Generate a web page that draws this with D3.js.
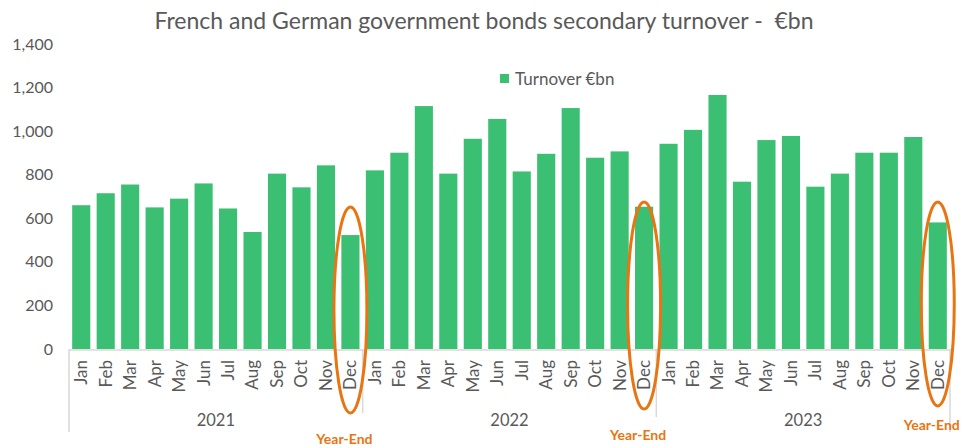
<!DOCTYPE html>
<html>
<head>
<meta charset="utf-8">
<script src="https://cdn.jsdelivr.net/npm/d3@7"></script>
<style>
  html, body { margin: 0; padding: 0; background: #fff; }
  svg { display: block; font-family: Lato, "Open Sans", sans-serif; }
</style>
</head>
<body>
<svg id="chart" width="965" height="448"></svg>
<script>
const title = "French and German government bonds secondary turnover -  €bn";
const seriesName = "Turnover €bn";
const years = ["2021", "2022", "2023"];
const months = ["Jan","Feb","Mar","Apr","May","Jun","Jul","Aug","Sep","Oct","Nov","Dec"];
const turnover2021 = [660, 715, 755, 650, 690, 760, 645, 537, 805, 742, 843, 523];
const turnover2022 = [820, 901, 1115, 805, 965, 1056, 815, 896, 1106, 878, 907, 653];
const turnover2023 = [942, 1006, 1166, 768, 959, 978, 745, 805, 901, 901, 973, 581];
const yTicks = [0, 200, 400, 600, 800, 1000, 1200, 1400];
const annotationLabel = "Year-End";

(function () {
const byYear = [turnover2021, turnover2022, turnover2023];
const data = [];
years.forEach((yr, yi) => months.forEach((m, mi) => data.push({ key: yr + "-" + m, year: yr, month: m, value: byYear[yi][mi] })));

const svg = d3.select("#chart");
const pLeft = 69, pRight = 950, pTop = 44, pBottom = 349;
const textColor = "#595959";
const barColor = "#3ABF73";
const orange = "#E87512";
const ff = "Lato, 'Open Sans', sans-serif";

const x = d3.scaleBand().domain(data.map(d => d.key)).range([pLeft, pRight]).paddingInner(0.26).paddingOuter(0.13);
const y = d3.scaleLinear().domain([0, 1400]).range([pBottom, pTop]);

// title
svg.append("text").attr("x", 484).attr("y", 29).attr("text-anchor", "middle")
  .style("white-space", "pre").attr("xml:space", "preserve")
  .attr("font-size", 23).attr("fill", textColor).text(title);

// y axis labels
const yAxis = d3.axisLeft(y).tickValues(yTicks).tickFormat(d3.format(",")).tickSize(0).tickPadding(0);
const gy = svg.append("g").attr("transform", "translate(53,0)").call(yAxis);
gy.select(".domain").remove();
gy.selectAll("text").attr("font-size", 16).attr("fill", textColor).attr("font-family", ff);

// bars
svg.append("g").selectAll("rect").data(data).join("rect")
  .attr("x", d => x(d.key)).attr("width", x.bandwidth())
  .attr("y", d => y(d.value)).attr("height", d => y(0) - y(d.value))
  .attr("fill", barColor);

// x axis baseline
svg.append("line").attr("x1", pLeft).attr("x2", pRight).attr("y1", pBottom + 1).attr("y2", pBottom + 1)
  .attr("stroke", "#D9D9D9").attr("stroke-width", 1.5);

// month labels
const xAxis = d3.axisBottom(x).tickFormat(k => k.split("-")[1]).tickSize(0).tickPadding(0);
const gx = svg.append("g").attr("transform", `translate(0,${pBottom + 11})`).call(xAxis);
gx.select(".domain").remove();
gx.selectAll("text").attr("font-size", 17).attr("fill", textColor)
  .attr("font-family", ff)
  .attr("text-anchor", "end").attr("dy", "0.35em").attr("y", 0)
  .attr("transform", "rotate(-90)");

// year group separators
const sepX = [pLeft, pLeft + 12 * (pRight - pLeft) / 36, pLeft + 24 * (pRight - pLeft) / 36, pRight];
const sepBottom = [432, 413, 417, 432];
sepX.forEach((sx, i) => {
  svg.append("line").attr("x1", sx).attr("x2", sx).attr("y1", pBottom).attr("y2", sepBottom[i])
    .attr("stroke", "#D9D9D9").attr("stroke-width", 1.5);
});

// year labels
years.forEach((yr, i) => {
  const cx = (sepX[i] + sepX[i + 1]) / 2;
  svg.append("text").attr("x", cx).attr("y", 426).attr("text-anchor", "middle")
    .attr("font-size", 16.5).attr("fill", textColor).text(yr);
});

// legend
svg.append("rect").attr("x", 500).attr("y", 74).attr("width", 9).attr("height", 9).attr("fill", barColor);
svg.append("text").attr("x", 515).attr("y", 85).attr("font-size", 17).attr("fill", textColor).text(seriesName);

// year-end annotations
const ann = [
  { key: "2021-Dec", cy: 310, ry: 103, ly: 444 },
  { key: "2022-Dec", cy: 305.5, ry: 103.5, ly: 440 },
  { key: "2023-Dec", cy: 304, ry: 102, ly: 430 }
];
ann.forEach(a => {
  const cx = x(a.key) + x.bandwidth() / 2;
  svg.append("ellipse").attr("cx", cx).attr("cy", a.cy).attr("rx", 16.5).attr("ry", a.ry)
    .attr("fill", "none").attr("stroke", orange).attr("stroke-width", 3);
  svg.append("text").attr("x", cx - 6).attr("y", a.ly).attr("text-anchor", "middle")
    .attr("font-size", 14).attr("font-weight", "bold").attr("fill", orange).text(annotationLabel);
});
})();
</script>
</body>
</html>
